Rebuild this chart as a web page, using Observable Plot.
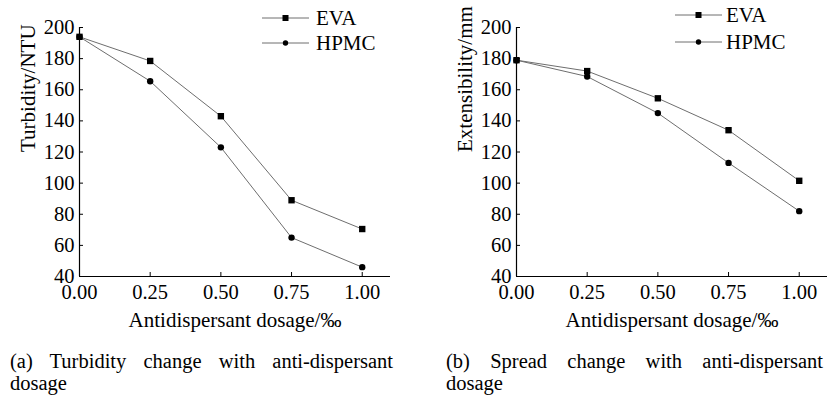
<!DOCTYPE html>
<html><head><meta charset="utf-8">
<script src="https://cdn.jsdelivr.net/npm/d3@7"></script>
<script src="https://cdn.jsdelivr.net/npm/@observablehq/plot@0.6"></script>
<style>
body{margin:0;background:#fff;font-family:"Liberation Serif","Times New Roman",serif;color:#000;}
#wrap{display:flex;width:832px;height:398px;overflow:hidden;}
.panel{position:relative;width:416px;height:398px;}
.leg{position:absolute;display:flex;align-items:center;height:20px;font-size:21px;line-height:20px;}
.leg svg{display:block;}
.cap{position:absolute;font-size:20.5px;line-height:22px;}
.cap .l1{text-align:justify;text-align-last:justify;}
</style></head>
<body><div id="wrap"></div>
<script>
const dosage = [0, 0.25, 0.5, 0.75, 1.0];
const turbidityEVA = [194, 178.5, 143, 89, 70.5];
const turbidityHPMC = [194, 165.5, 123, 65, 46];
const spreadEVA = [179, 172, 154.5, 134, 101.5];
const spreadHPMC = [179, 168.5, 145, 113, 82];
const xTicks = [0, 0.25, 0.5, 0.75, 1.0];
const yTicks = [40, 60, 80, 100, 120, 140, 160, 180, 200];
const seriesNames = ["EVA", "HPMC"];
const xLabel = "Antidispersant dosage/‰";
const yLabels = ["Turbidity/NTU", "Extensibility/mm"];
const captions = [["(a) Turbidity change with anti-dispersant", "dosage"], ["(b) Spread change with anti-dispersant", "dosage"]];

const FONT = "'Liberation Serif','Times New Roman',serif";

function makePanel(cfg) {
  const rows = [];
  dosage.forEach((x, i) => rows.push({x, y: cfg.eva[i], s: seriesNames[0]}));
  dosage.forEach((x, i) => rows.push({x, y: cfg.hpmc[i], s: seriesNames[1]}));
  return Plot.plot({
    width: 416, height: 336,
    marginLeft: cfg.mLeft, marginRight: cfg.mRight, marginTop: 27, marginBottom: 60,
    style: {fontFamily: FONT, fontSize: "20.5px", color: "#000", background: "#fff"},
    x: {domain: [0, 1.1]},
    y: {domain: [40, 200]},
    marks: [
      Plot.axisX({ticks: xTicks, tickFormat: d3.format(".2f"), tickSize: -4, tickPadding: 12, label: null}),
      Plot.axisY({ticks: yTicks, tickSize: -4, tickPadding: 9, label: null}),
      Plot.text([xLabel], {text: d => d, frameAnchor: "bottom", lineAnchor: "middle", dy: 44, fontSize: 21, fill: "#000"}),
      Plot.text([cfg.yLabel], {text: d => d, frameAnchor: "left", lineAnchor: "middle", rotate: -90, dx: -51, fontSize: 21, fill: "#000"}),
      Plot.ruleX([0], {stroke: "#000", strokeWidth: 1.2}),
      Plot.ruleY([40], {stroke: "#000", strokeWidth: 1.2}),
      Plot.line(rows, {x: "x", y: "y", z: "s", stroke: "#6e6e6e", strokeWidth: 1}),
      Plot.dot(rows.filter(d => d.s === seriesNames[0]), {x: "x", y: "y", symbol: "square", r: 3.6, fill: "#000", stroke: null}),
      Plot.dot(rows.filter(d => d.s === seriesNames[1]), {x: "x", y: "y", symbol: "circle", r: 3.2, fill: "#000", stroke: null})
    ]
  });
}

function legendItem(name, symbol, left, top, lineW, gap) {
  const div = document.createElement("div");
  div.className = "leg";
  div.style.left = left + "px";
  div.style.top = top + "px";
  const mid = lineW / 2;
  const marker = symbol === "square"
    ? `<rect x="${mid - 3}" y="7" width="6" height="6" fill="#000"/>`
    : `<circle cx="${mid}" cy="10" r="2.7" fill="#000"/>`;
  div.innerHTML = `<svg width="${lineW}" height="20"><line x1="0" y1="10" x2="${lineW}" y2="10" stroke="#6e6e6e" stroke-width="1"/>${marker}</svg><span style="margin-left:${gap}px">${name}</span>`;
  return div;
}

const panels = [
  {eva: turbidityEVA, hpmc: turbidityHPMC, yLabel: yLabels[0], mLeft: 79, mRight: 26,
   leg: {left: 262, tops: [8, 33], lineW: 47, gap: 7}, cap: {left: 10, width: 383}},
  {eva: spreadEVA, hpmc: spreadHPMC, yLabel: yLabels[1], mLeft: 100, mRight: 5,
   leg: {left: 259, tops: [5, 32], lineW: 47, gap: 4}, cap: {left: 30, width: 377}}
];

const wrap = document.getElementById("wrap");
panels.forEach((cfg, k) => {
  const p = document.createElement("div");
  p.className = "panel";
  const chart = makePanel(cfg);
  chart.style.display = "block";
  p.appendChild(chart);
  p.appendChild(legendItem(seriesNames[0], "square", cfg.leg.left, cfg.leg.tops[0], cfg.leg.lineW, cfg.leg.gap));
  p.appendChild(legendItem(seriesNames[1], "circle", cfg.leg.left, cfg.leg.tops[1], cfg.leg.lineW, cfg.leg.gap));
  const cap = document.createElement("div");
  cap.className = "cap";
  cap.style.left = cfg.cap.left + "px";
  cap.style.width = cfg.cap.width + "px";
  cap.style.top = "350px";
  cap.innerHTML = `<div class="l1">${captions[k][0]}</div><div>${captions[k][1]}</div>`;
  p.appendChild(cap);
  wrap.appendChild(p);
});
</script>
</body></html>
